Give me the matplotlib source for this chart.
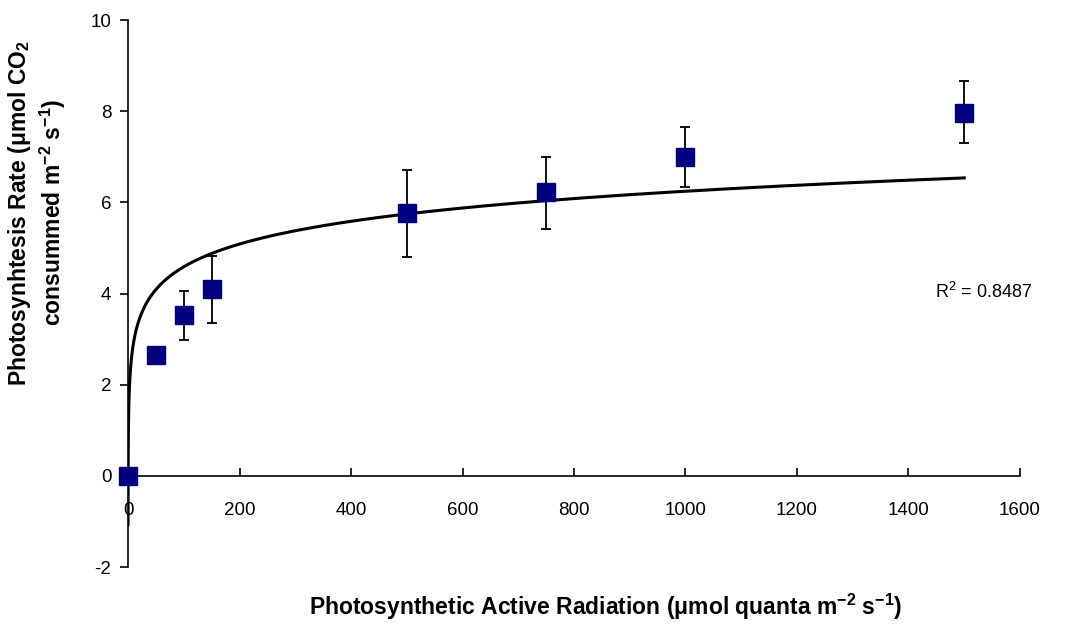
import numpy as np
import matplotlib
matplotlib.use("Agg")
import matplotlib.pyplot as plt

# Data
par = [0, 50, 100, 150, 500, 750, 1000, 1500]
rate = [0.0, 2.65, 3.52, 4.10, 5.76, 6.22, 7.00, 7.97]
err_low = [0.0, 0.08, 0.55, 0.74, 0.96, 0.80, 0.66, 0.66]
err_high = [0.0, 0.08, 0.54, 0.72, 0.95, 0.78, 0.66, 0.70]

# Logarithmic trend line y = a*ln(x) + b (coefficients)
trend_a = 0.72
trend_b = 1.27
trend_x_min = 0.039
trend_x_max = 1500
r2_text = "0.8487"

x_ticks = [0, 200, 400, 600, 800, 1000, 1200, 1400, 1600]
y_ticks = [-2, 0, 2, 4, 6, 8, 10]

plt.rcParams['font.family'] = ['Liberation Sans', 'DejaVu Sans']
plt.rcParams['mathtext.fontset'] = 'custom'
plt.rcParams['mathtext.rm'] = 'Liberation Sans'
plt.rcParams['mathtext.bf'] = 'Liberation Sans:bold'
plt.rcParams['mathtext.default'] = 'rm'

fig = plt.figure(figsize=(10.73, 6.25), dpi=100)
ax = fig.add_axes([0.1193, 0.0928, 0.9506 - 0.1193, 0.968 - 0.0928])

tx = np.geomspace(trend_x_min, trend_x_max, 600)
ty = trend_a * np.log(tx) + trend_b
ax.plot(tx, ty, color='black', lw=2.2, zorder=2)

ax.errorbar(par, rate, yerr=[err_low, err_high], fmt='none', ecolor='black',
            elinewidth=1.3, capsize=3.8, capthick=1.3, zorder=3)
ax.plot(par, rate, linestyle='none', marker='s', markersize=12.5,
        color='#000080', markeredgecolor='#000080', zorder=4, clip_on=False)

ax.set_xlim(0, 1600)
ax.set_ylim(-2, 10)
ax.spines['top'].set_visible(False)
ax.spines['right'].set_visible(False)
ax.spines['bottom'].set_position(('data', 0))
ax.spines['left'].set_position(('data', 0))
for s in ('bottom', 'left'):
    ax.spines[s].set_linewidth(1.2)
    ax.spines[s].set_color('black')

ax.set_xticks(x_ticks)
ax.set_yticks(y_ticks)
ax.set_xticklabels([str(v) for v in x_ticks])
ax.set_yticklabels([str(v) for v in y_ticks])
ax.tick_params(axis='x', direction='in', length=6, width=1.2, pad=19,
               labelsize=13.5)
ax.tick_params(axis='y', direction='out', length=6, width=1.2, pad=6,
               labelsize=13.5)

ax.text(1447, 4.03, r"R$^{2}$ = " + r2_text, fontsize=13, va='center',
        ha='left')

fig.text(0.564, 0.029,
         r"Photosynthetic Active Radiation ($\mathbf{\mu}$mol quanta m$^{\mathbf{-2}}$ s$^{\mathbf{-1}}$)",
         ha='center', va='center', fontsize=16.5, fontweight='bold')
fig.text(0.018, 0.66,
         r"Photosynhtesis Rate ($\mathbf{\mu}$mol CO$_{\mathbf{2}}$",
         ha='center', va='center', rotation=90, fontsize=16.5,
         fontweight='bold')
fig.text(0.049, 0.66,
         r"consummed m$^{\mathbf{-2}}$ s$^{\mathbf{-1}}$)",
         ha='center', va='center', rotation=90, fontsize=16.5,
         fontweight='bold')

fig.savefig("out.png", dpi=100)
